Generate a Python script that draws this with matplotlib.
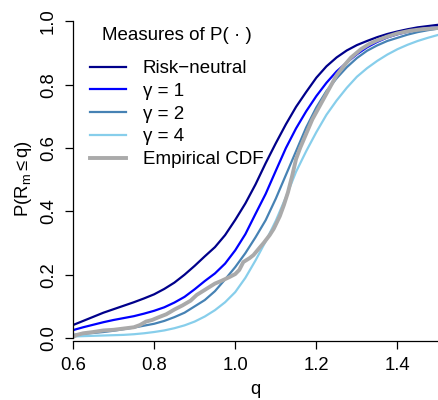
import matplotlib
matplotlib.use("Agg")
import matplotlib.pyplot as plt

plt.rcParams['font.family'] = ['Liberation Sans', 'DejaVu Sans']
plt.rcParams['mathtext.fontset'] = 'custom'
plt.rcParams['mathtext.rm'] = 'Liberation Sans'
plt.rcParams['mathtext.it'] = 'Liberation Sans:italic'

# ---- data ----
q_model = [0.600, 0.625, 0.650, 0.675, 0.700, 0.725, 0.750, 0.775, 0.800, 0.825,
           0.850, 0.875, 0.900, 0.925, 0.950, 0.975, 1.000, 1.025, 1.050, 1.075,
           1.100, 1.125, 1.150, 1.175, 1.200, 1.225, 1.250, 1.275, 1.300, 1.325,
           1.350, 1.375, 1.400, 1.425, 1.450, 1.475, 1.500]
risk_neutral = [0.041, 0.054, 0.067, 0.080, 0.091, 0.102, 0.113, 0.125, 0.138, 0.155,
                0.175, 0.200, 0.228, 0.258, 0.287, 0.325, 0.373, 0.425, 0.485, 0.552,
                0.615, 0.675, 0.730, 0.777, 0.822, 0.858, 0.886, 0.908, 0.925, 0.938,
                0.950, 0.960, 0.968, 0.975, 0.981, 0.985, 0.989]
gamma1 = [0.025, 0.034, 0.042, 0.050, 0.057, 0.063, 0.069, 0.077, 0.086, 0.097,
          0.112, 0.130, 0.154, 0.180, 0.204, 0.235, 0.277, 0.328, 0.392, 0.455,
          0.528, 0.600, 0.662, 0.716, 0.764, 0.806, 0.842, 0.870, 0.896, 0.918,
          0.935, 0.949, 0.959, 0.967, 0.973, 0.978, 0.982]
gamma2 = [0.010, 0.013, 0.016, 0.019, 0.023, 0.028, 0.033, 0.039, 0.045, 0.054,
          0.066, 0.080, 0.100, 0.120, 0.148, 0.185, 0.224, 0.268, 0.318, 0.372,
          0.440, 0.515, 0.590, 0.665, 0.728, 0.780, 0.820, 0.855, 0.884, 0.907,
          0.924, 0.938, 0.948, 0.958, 0.966, 0.972, 0.977]
gamma4 = [0.005, 0.006, 0.007, 0.008, 0.009, 0.010, 0.012, 0.015, 0.019, 0.024,
          0.031, 0.040, 0.052, 0.068, 0.088, 0.113, 0.145, 0.190, 0.245, 0.305,
          0.370, 0.445, 0.525, 0.590, 0.650, 0.705, 0.750, 0.790, 0.825, 0.852,
          0.875, 0.895, 0.912, 0.926, 0.938, 0.948, 0.957]
q_emp = [0.600, 0.610, 0.625, 0.650, 0.675, 0.700, 0.725, 0.750, 0.765, 0.780,
         0.795, 0.810, 0.830, 0.850, 0.870, 0.890, 0.905, 0.920, 0.935, 0.950,
         0.965, 0.985, 1.000, 1.010, 1.020, 1.035, 1.045, 1.060, 1.070, 1.085,
         1.095, 1.110, 1.120, 1.130, 1.140, 1.150, 1.160, 1.175, 1.190, 1.205,
         1.220, 1.235, 1.250, 1.265, 1.285, 1.310, 1.330, 1.350, 1.375, 1.400,
         1.430, 1.460, 1.500]
empirical = [0.004, 0.010, 0.015, 0.019, 0.024, 0.026, 0.030, 0.034, 0.041, 0.052,
             0.057, 0.065, 0.075, 0.090, 0.103, 0.118, 0.136, 0.148, 0.160, 0.172,
             0.180, 0.192, 0.202, 0.215, 0.240, 0.252, 0.262, 0.285, 0.300, 0.325,
             0.345, 0.385, 0.420, 0.460, 0.510, 0.565, 0.600, 0.645, 0.690, 0.725,
             0.760, 0.795, 0.830, 0.855, 0.885, 0.912, 0.928, 0.940, 0.952, 0.962,
             0.970, 0.975, 0.979]

labels = ["Risk\u2212neutral", "\u03b3 = 1", "\u03b3 = 2", "\u03b3 = 4", "Empirical CDF"]
colors = ["#00008B", "#0000FF", "#4682B4", "#87CEEB", "#AAAAAA"]
xticks = [0.6, 0.8, 1.0, 1.2, 1.4]
yticks = [0.0, 0.2, 0.4, 0.6, 0.8, 1.0]

W, H = 438, 400
fig = plt.figure(figsize=(W / 100, H / 100), dpi=100)
left, right, bottom, top = 73, 438, 341.2, 15
ax = fig.add_axes([left / W, 1 - bottom / H, (right - left) / W, (bottom - top) / H])

series = [risk_neutral, gamma1, gamma2, gamma4]
handles = []
for ys, c, lab in zip(series, colors[:4], labels[:4]):
    h, = ax.plot(q_model, ys, color=c, lw=1.6, label=lab)
    handles.append(h)
h, = ax.plot(q_emp, empirical, color=colors[4], lw=2.8, label=labels[4])
handles.append(h)

ax.set_xlim(0.6, 1.5)
ax.set_ylim(-0.01, 1.02)
ax.set_xticks(xticks)
ax.set_xticklabels([f"{v:.1f}" for v in xticks])
ax.set_yticks(yticks)
ax.set_yticklabels([f"{v:.1f}" for v in yticks], rotation=90, va='center')
ax.tick_params(direction='out', length=5.5, width=0.9, labelsize=13.3)
ax.tick_params(axis='y', pad=6)
ax.tick_params(axis='x', pad=6)
for s in ['top', 'right']:
    ax.spines[s].set_visible(False)
ax.spines['left'].set_bounds(0, 1)
for s in ['left', 'bottom']:
    ax.spines[s].set_linewidth(0.9)

ax.set_xlabel("q", fontsize=13.3, labelpad=5)
ax.set_ylabel(r"$\mathrm{P(R_m \leq q)}$", fontsize=13.3, labelpad=4)

leg = fig.legend(handles=handles, labels=labels, title="Measures of P( \u00b7 )",
                 loc='upper left', bbox_to_anchor=(90 / W, 1 - 27 / H),
                 frameon=False, fontsize=13.5, title_fontsize=13.5,
                 handlelength=1.92, handletextpad=0.9, labelspacing=0.3,
                 borderpad=0, borderaxespad=0)
leg._legend_box.sep = 11.6

fig.savefig("out.png", dpi=100)
